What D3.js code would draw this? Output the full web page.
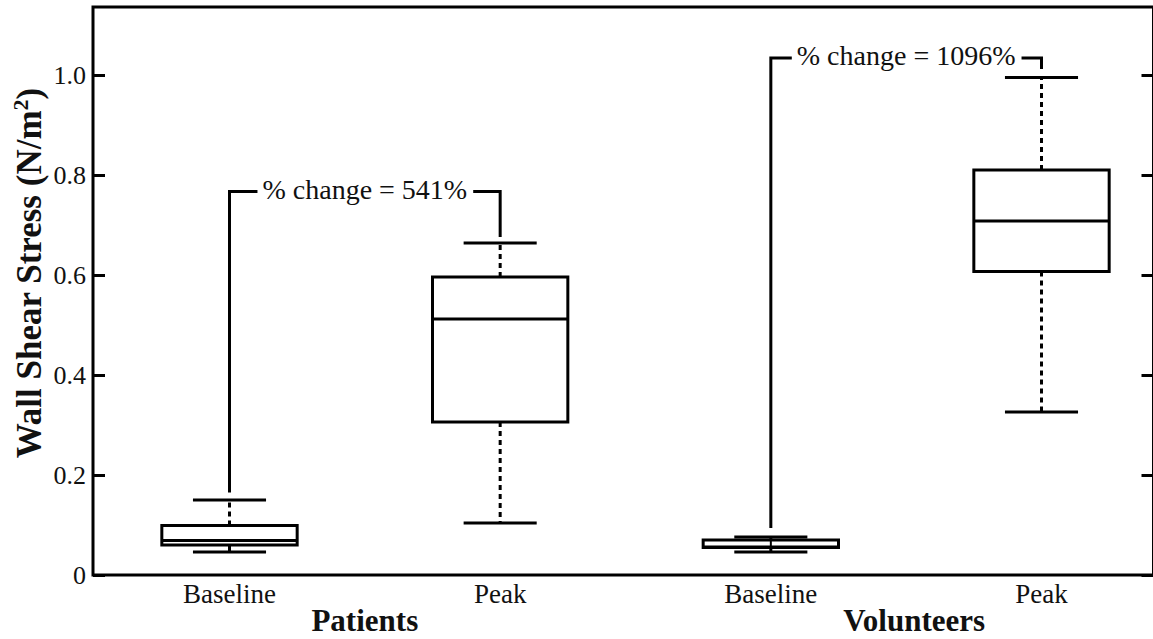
<!DOCTYPE html>
<html>
<head>
<meta charset="utf-8">
<script src="https://cdn.jsdelivr.net/npm/d3@7"></script>
<style>
  html, body { margin: 0; padding: 0; background: #fff; }
  svg { display: block; }
  text { font-family: "Liberation Serif", "Times New Roman", serif; fill: #111; }
</style>
</head>
<body>
<svg id="chart" width="1153" height="639"></svg>
<script>
// ---- data ----
const categories = ["Baseline", "Peak", "Baseline", "Peak"];
const groups = ["Patients", "Volunteers"];
const whiskerLow  = [0.046, 0.104, 0.046, 0.326];
const q1          = [0.060, 0.306, 0.055, 0.607];
const median      = [0.069, 0.512, 0.056, 0.708];
const q3          = [0.099, 0.596, 0.070, 0.810];
const whiskerHigh = [0.150, 0.664, 0.076, 0.995];
const yTicks = [0, 0.2, 0.4, 0.6, 0.8, 1.0];
const yTickLabels = ["0", "0.2", "0.4", "0.6", "0.8", "1.0"];
const annTexts = ["% change = 541%", "% change = 1096%"];
const annTop = [0.767, 1.034];
const annLeftBottom = [0.165, 0.094];
const annRightBottom = [0.676, 1.012];
const yTitle = "Wall Shear Stress (N/m";

// ---- layout ----
const frame = { left: 93, right: 1153.5, top: 7, bottom: 575 };
const svg = d3.select("#chart");
const x = d3.scaleLinear().domain([0, 3]).range([229.5, 1041.5]);
const y = d3.scaleLinear().domain([0, 1.136]).range([frame.bottom, frame.top]);
const boxW = 0.5, capW = 0.25;
const SW = 3;

// frame
svg.append("rect")
  .attr("x", frame.left).attr("y", frame.top)
  .attr("width", frame.right - frame.left).attr("height", frame.bottom - frame.top)
  .attr("fill", "none").attr("stroke", "#000").attr("stroke-width", SW);

// left axis (inward ticks)
const leftAxis = d3.axisRight(y).tickValues(yTicks).tickSize(12).tickFormat("");
const gl = svg.append("g").attr("transform", `translate(${frame.left},0)`).call(leftAxis);
gl.select(".domain").remove();
gl.selectAll(".tick line").attr("stroke", "#000").attr("stroke-width", SW);

// right axis (inward ticks)
const rightAxis = d3.axisLeft(y).tickValues(yTicks).tickSize(12).tickFormat("");
const gr = svg.append("g").attr("transform", `translate(${frame.right},0)`).call(rightAxis);
gr.select(".domain").remove();
gr.selectAll(".tick line").attr("stroke", "#000").attr("stroke-width", SW);

// tick labels
svg.append("g").selectAll("text").data(yTicks).join("text")
  .attr("x", frame.left - 7)
  .attr("y", d => y(d))
  .attr("dy", "0.35em")
  .attr("text-anchor", "end")
  .style("font-size", "26px")
  .text((d, i) => yTickLabels[i]);

// y title
const yt = svg.append("text")
  .attr("transform", `translate(41,${(frame.top + frame.bottom) / 2 - 18}) rotate(-90)`)
  .attr("text-anchor", "middle")
  .style("font-size", "35px").style("font-weight", "bold");
yt.append("tspan").text(yTitle);
yt.append("tspan").attr("dy", -13).style("font-size", "22px").text("2");
yt.append("tspan").attr("dy", 13).text(")");

// category labels
svg.append("g").selectAll("text").data(categories).join("text")
  .attr("x", (d, i) => x(i))
  .attr("y", 603)
  .attr("text-anchor", "middle")
  .style("font-size", "27px")
  .text(d => d);

// group labels
svg.append("g").selectAll("text").data(groups).join("text")
  .attr("x", (d, i) => (x(2 * i) + x(2 * i + 1)) / 2 + i * 8)
  .attr("y", 631)
  .attr("text-anchor", "middle")
  .style("font-size", "31px").style("font-weight", "bold")
  .text(d => d);

// boxes
const idx = d3.range(categories.length);
const gb = svg.append("g").attr("stroke", "#000").attr("stroke-width", SW).attr("fill", "none");
// whiskers (dashed, from box outward)
gb.selectAll("line.wu").data(idx).join("line")
  .attr("x1", i => x(i)).attr("x2", i => x(i))
  .attr("y1", i => y(q3[i])).attr("y2", i => y(whiskerHigh[i]))
  .attr("stroke-dasharray", i => (y(q3[i]) - y(whiskerHigh[i]) > 12 ? "5,4" : null));
gb.selectAll("line.wl").data(idx).join("line")
  .attr("x1", i => x(i)).attr("x2", i => x(i))
  .attr("y1", i => y(q1[i])).attr("y2", i => y(whiskerLow[i]))
  .attr("stroke-dasharray", i => (y(whiskerLow[i]) - y(q1[i]) > 12 ? "5,4" : null));
// caps
gb.selectAll("line.cu").data(idx).join("line")
  .attr("x1", i => x(i - capW / 2 * 1.08)).attr("x2", i => x(i + capW / 2 * 1.08))
  .attr("y1", i => y(whiskerHigh[i])).attr("y2", i => y(whiskerHigh[i]));
gb.selectAll("line.cl").data(idx).join("line")
  .attr("x1", i => x(i - capW / 2 * 1.08)).attr("x2", i => x(i + capW / 2 * 1.08))
  .attr("y1", i => y(whiskerLow[i])).attr("y2", i => y(whiskerLow[i]));
// box
gb.selectAll("rect").data(idx).join("rect")
  .attr("x", i => x(i - boxW / 2)).attr("width", i => x(boxW) - x(0))
  .attr("y", i => y(q3[i])).attr("height", i => y(q1[i]) - y(q3[i]))
  .attr("fill", "#fff");
// short boxes: whisker passes through box
gb.selectAll("line.thru").data(idx.filter(i => y(q1[i]) - y(q3[i]) < 12)).join("line")
  .attr("x1", i => x(i)).attr("x2", i => x(i))
  .attr("y1", i => y(q3[i])).attr("y2", i => y(q1[i]))
  .attr("stroke-width", 2);
// median
gb.selectAll("line.med").data(idx).join("line")
  .attr("x1", i => x(i - boxW / 2)).attr("x2", i => x(i + boxW / 2))
  .attr("y1", i => y(median[i])).attr("y2", i => y(median[i]));

// annotations
annTexts.forEach((t, k) => {
  const xl = x(2 * k), xr = x(2 * k + 1);
  const yTop = y(annTop[k]);
  const txt = svg.append("text")
    .attr("x", (xl + xr) / 2).attr("y", yTop + 7)
    .attr("text-anchor", "middle")
    .style("font-size", "28px")
    .text(t);
  const bb = txt.node().getBBox();
  const g = svg.append("g").attr("stroke", "#000").attr("stroke-width", SW).attr("fill", "none");
  g.append("path").attr("d", d3.line()([[xl, y(annLeftBottom[k])], [xl, yTop], [bb.x - 5, yTop]]));
  g.append("path").attr("d", d3.line()([[bb.x + bb.width + 6, yTop], [xr, yTop], [xr, y(annRightBottom[k])]]));
});
</script>
</body>
</html>
